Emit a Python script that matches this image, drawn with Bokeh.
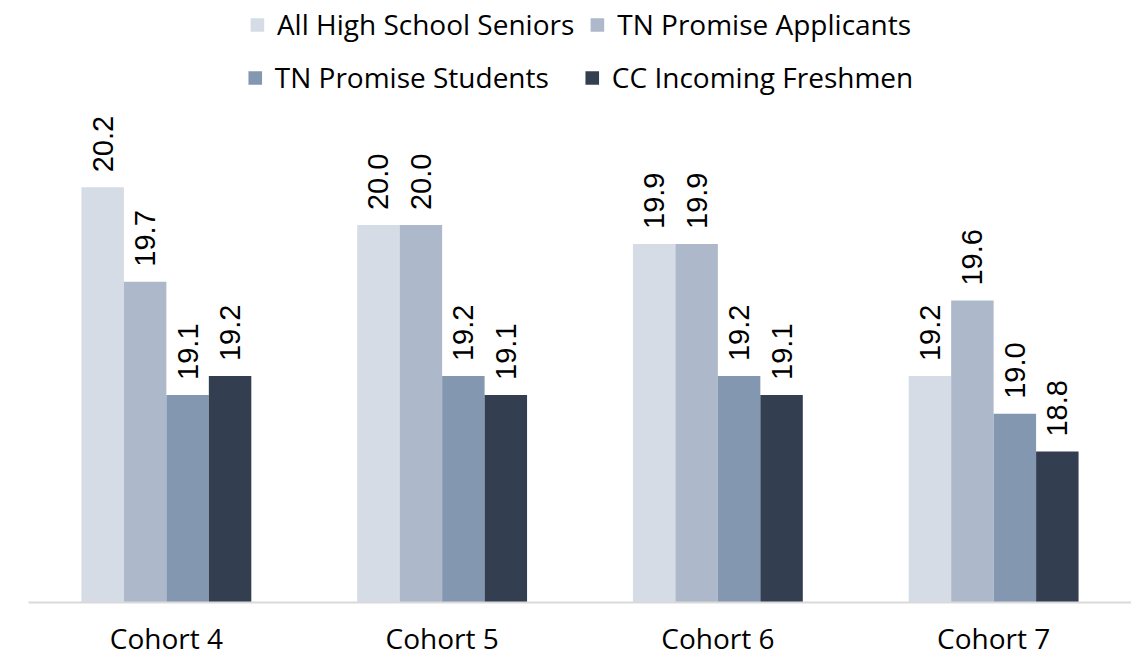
import math
from bokeh.plotting import figure
from bokeh.models import ColumnDataSource, FactorRange, Legend, LegendItem, Range1d
from bokeh.transform import dodge
from bokeh.core.properties import value
from bokeh.embed import file_html
from bokeh.resources import INLINE

cohorts = ["Cohort 4", "Cohort 5", "Cohort 6", "Cohort 7"]
series_names = ["All High School Seniors", "TN Promise Applicants",
                "TN Promise Students", "CC Incoming Freshmen"]
seniors = [20.2, 20.0, 19.9, 19.2]
applicants = [19.7, 20.0, 19.9, 19.6]
students = [19.1, 19.2, 19.2, 19.0]
freshmen = [19.2, 19.1, 19.1, 18.8]
colors = ["#d6dce5", "#adb9ca", "#8497b0", "#333f50"]

Y_START, Y_END = 18.0, 21.19
BAR_W = 0.154
offsets = [-1.5 * BAR_W, -0.5 * BAR_W, 0.5 * BAR_W, 1.5 * BAR_W]

keys = ["s0", "s1", "s2", "s3"]
data = dict(cohort=cohorts)
for k, vals in zip(keys, [seniors, applicants, students, freshmen]):
    data[k] = vals
    data[k + "_lbl"] = [f"{v:.1f}" for v in vals]
src = ColumnDataSource(data)

p = figure(x_range=FactorRange(factors=cohorts, range_padding=0),
           y_range=Range1d(Y_START, Y_END),
           width=1131, height=659, output_backend="svg", toolbar_location=None,
           min_border_left=28, min_border_right=0, min_border_top=0,
           min_border_bottom=40)
p.outline_line_color = None
p.grid.visible = False
p.yaxis.visible = False
p.background_fill_color = "white"

xa = p.xaxis[0]
xa.axis_line_color = "#d9d9d9"
xa.axis_line_width = 2
xa.major_tick_line_color = None
xa.minor_tick_line_color = None
xa.major_tick_out = 0
xa.major_tick_in = 0
xa.major_label_text_font = "Open Sans"
xa.major_label_text_font_size = "28px"
xa.major_label_text_color = "#000000"
xa.major_label_standoff = 16

renderers = []
for k, off, col in zip(keys, offsets, colors):
    r = p.vbar(x=dodge("cohort", off, range=p.x_range), top=k, bottom=Y_START,
               width=BAR_W, source=src, fill_color=col, line_color=None)
    renderers.append(r)
    p.text(x=dodge("cohort", off, range=p.x_range), y=k, text=k + "_lbl",
           source=src, angle=math.pi / 2, text_align="left",
           text_baseline="middle", y_offset=-15,
           text_font=value("Liberation Sans"), text_font_size="29px",
           text_color="#000000")

def make_legend(idx, margin, spacing):
    return Legend(items=[LegendItem(label=series_names[i], renderers=[renderers[i]]) for i in idx],
                  orientation="horizontal", location="top_center", margin=margin,
                  padding=0, spacing=spacing, label_standoff=12,
                  glyph_width=17, glyph_height=17,
                  label_text_font="Open Sans", label_text_font_size="28px",
                  label_text_color="#000000",
                  border_line_color=None, background_fill_alpha=0)

p.add_layout(make_legend([0, 1], 5, 14))
p.add_layout(make_legend([2, 3], 58, 34))

open("out.html", "w").write(file_html(p, INLINE))
